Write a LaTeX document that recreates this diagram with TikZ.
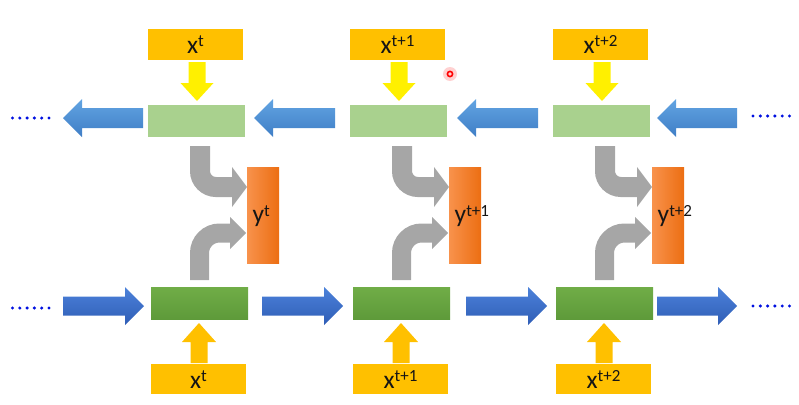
\documentclass[tikz,border=0pt]{standalone}
\usepackage{fontspec}
\setmainfont{Carlito}
\definecolor{cGold}{HTML}{FFC000}
\definecolor{cYel}{HTML}{FFF000}
\definecolor{cLG}{HTML}{A9D18E}
\definecolor{cDG}{HTML}{70AD47}
\definecolor{cDG2}{HTML}{5E9A3A}
\definecolor{cOr1}{HTML}{F8924C}
\definecolor{cOr2}{HTML}{EC6E12}
\definecolor{cGray}{HTML}{A6A6A6}
\definecolor{cBT1}{HTML}{62A4E2}
\definecolor{cBT2}{HTML}{3F7EC6}
\definecolor{cBB1}{HTML}{4C82DA}
\definecolor{cBB2}{HTML}{2F5DB6}
\definecolor{cDot}{HTML}{0010E0}
\definecolor{cTxt}{HTML}{151515}
\newcommand\spx[1]{\raisebox{6.5pt}{\fontsize{17}{17}\selectfont #1}}
% left block arrow: tip x, tail x, centre y, style
\newcommand\larrow[4]{\path[#4] (#1,#3) -- (#1+19,#3-19) -- (#1+19,#3-10) -- (#2,#3-10) -- (#2,#3+10) -- (#1+19,#3+10) -- (#1+19,#3+19) -- cycle;}
% right block arrow: tail x, tip x, centre y, style
\newcommand\rarrow[4]{\path[#4] (#2,#3) -- (#2-19,#3-19) -- (#2-19,#3-9.5) -- (#1,#3-9.5) -- (#1,#3+9.5) -- (#2-19,#3+9.5) -- (#2-19,#3+19) -- cycle;}
% down block arrow: centre x, top y, tip y, style
\newcommand\darrow[4]{\path[#4] (#1,#3) -- (#1-16.5,#3-18) -- (#1-8.5,#3-18) -- (#1-8.5,#2) -- (#1+8.5,#2) -- (#1+8.5,#3-18) -- (#1+16.5,#3-18) -- cycle;}
% up block arrow: centre x, bottom y, tip y, style
\newcommand\uarrow[4]{\path[#4] (#1,#3) -- (#1-17,#3+19) -- (#1-8.5,#3+19) -- (#1-8.5,#2) -- (#1+8.5,#2) -- (#1+8.5,#3+19) -- (#1+17,#3+19) -- cycle;}
\tikzset{
  goldbox/.style={fill=cGold, draw=none, minimum width=95pt, minimum height=31pt, inner sep=0pt},
  lgbox/.style={fill=cLG, draw=none, minimum width=97pt, minimum height=32pt, inner sep=0pt},
  dgbox/.style={top color=cDG, bottom color=cDG2, draw=none, minimum width=97pt, minimum height=32pt, inner sep=0pt},
  orbox/.style={left color=cOr1, right color=cOr2, draw=none, minimum width=32pt, minimum height=96pt, inner sep=0pt},
  lbl/.style={font=\fontsize{25.5}{25.5}\selectfont, text=cTxt, inner sep=0pt},
  bluetop/.style={top color=cBT1, bottom color=cBT2},
  bluebot/.style={top color=cBB1, bottom color=cBB2},
  grayshaft/.style={draw=cGray, line width=20pt},
  grayhead/.style={fill=cGray},
  dotstyle/.style={fill=cDot},
}
\begin{document}
\begin{tikzpicture}[x=1pt,y=-1pt]
\useasboundingbox (0,0) rectangle (799,404);
\foreach \dx/\s [count=\i] in {0/t, 202/t+1, 405/t+2}{
  % boxes
  \node[goldbox] (xt\i) at (195.5+\dx,44.5) {};
  \node[lbl, anchor=base] (xtl\i) at (195.5+\dx,53) {x\spx{\s}};
  \node[lgbox] (bw\i) at (196.5+\dx,121) {};
  \node[orbox] (y\i) at (263+\dx,215.5) {};
  \node[lbl, anchor=base west] (yl\i) at (252.5+\dx,222.5) {y\spx{\s}};
  \node[dgbox] (fw\i) at (199.5+\dx,303) {};
  \node[goldbox, minimum height=30pt] (xb\i) at (198.5+\dx,379) {};
  \node[lbl, anchor=base] (xbl\i) at (198.5+\dx,388) {x\spx{\s}};
  % input arrows
  \darrow{197+\dx}{62}{101}{fill=cYel}
  \uarrow{199+\dx}{363}{323}{fill=cGold}
  % gray arrows to output
  \draw[grayshaft, rounded corners=16pt] (200+\dx,146) |- (233+\dx,187);
  \fill[grayhead] (232+\dx,167) -- (247+\dx,187) -- (232+\dx,207) -- cycle;
  \draw[grayshaft, line width=19pt, rounded corners=20pt] (199.5+\dx,280) |- (231+\dx,233);
  \fill[grayhead] (230+\dx,217) -- (246+\dx,233) -- (230+\dx,249) -- cycle;
}
% top row (backward) arrows
\larrow{63}{143}{118}{bluetop}
\larrow{254}{335}{118}{bluetop}
\larrow{457}{538}{118}{bluetop}
\larrow{657}{737}{118}{bluetop}
% bottom row (forward) arrows
\rarrow{63}{144}{306}{bluebot}
\rarrow{262}{343}{306}{bluebot}
\rarrow{466}{547}{306}{bluebot}
\rarrow{657}{737}{306}{bluebot}
% dots
\foreach \k in {0,...,5}{
  \fill[dotstyle] (12.5+7.3*\k,118) circle (1.7);
  \fill[dotstyle] (753+7.3*\k,116) circle (1.7);
  \fill[dotstyle] (12.5+7.3*\k,308) circle (1.7);
  \fill[dotstyle] (753+7.3*\k,306) circle (1.7);
}
% cursor mark
\fill[red!18] (450,74) circle (7);
\draw[red, line width=1.6pt] (450,74) circle (2.6);
\end{tikzpicture}
\end{document}
